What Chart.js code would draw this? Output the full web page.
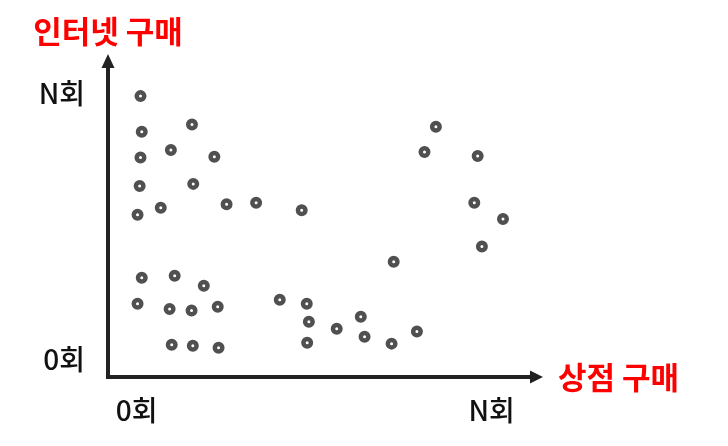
<!DOCTYPE html>
<html lang="ko">
<head>
<meta charset="utf-8">
<script src="https://cdn.jsdelivr.net/npm/chart.js@4/dist/chart.umd.min.js"></script>
<style>
    html, body { margin: 0; padding: 0; background: #fff; }
    #wrap { width: 728px; height: 446px; position: relative; }
</style>
</head>
<body>
<div id="wrap"><canvas id="buyChart"></canvas></div>
<script>
// store purchases (x) vs internet purchases (y), 0 = none, 10 = axis end
const storeBuys = [
    0.77, 0.80, 0.77, 0.75, 0.70, 1.99, 1.49, 2.52, 2.02, 1.25, 2.81, 3.51, 4.59,
    0.80, 1.58, 2.27, 0.70, 1.46, 1.98, 2.60, 1.51, 2.01, 2.62,
    4.07, 4.71, 4.76, 4.72, 5.42, 5.99, 6.08, 6.72, 7.32, 6.77,
    7.77, 7.50, 8.76, 8.68, 9.36, 8.86
];
const internetBuys = [
    9.09, 7.94, 7.10, 6.18, 5.25, 8.17, 7.35, 7.13, 6.25, 5.48, 5.59, 5.64, 5.40,
    3.21, 3.28, 2.95, 2.37, 2.20, 2.15, 2.27, 1.04, 1.01, 0.95,
    2.50, 2.37, 1.79, 1.11, 1.56, 1.95, 1.30, 1.08, 1.47, 3.73,
    8.10, 7.28, 7.15, 5.64, 5.11, 4.22
];

const xTickValues = [0.68, 9.09];
const xTickLabels = ['0회', 'N회'];
const yTickValues = [0.57, 9.17];
const yTickLabels = ['0회', 'N회'];
const xTitle = '상점 구매';
const yTitle = '인터넷 구매';

const FONT = '"Noto Sans CJK KR", "Noto Sans", sans-serif';

// axes with arrow heads, tick words and red axis titles
const axesPlugin = {
    id: 'arrowAxes',
    afterDatasetsDraw(chart) {
        const ctx = chart.ctx;
        const xs = chart.scales.x;
        const ys = chart.scales.y;
        const ox = xs.getPixelForValue(0);
        const oy = ys.getPixelForValue(0);
        const xEnd = xs.getPixelForValue(xs.max);
        const yEnd = ys.getPixelForValue(ys.max);

        ctx.save();
        ctx.strokeStyle = '#222';
        ctx.fillStyle = '#222';
        ctx.lineWidth = 4;
        ctx.lineCap = 'butt';
        ctx.beginPath();
        ctx.moveTo(ox, oy + 2);
        ctx.lineTo(ox, yEnd);
        ctx.moveTo(ox - 2, oy);
        ctx.lineTo(xEnd, oy);
        ctx.stroke();

        // arrow heads
        ctx.beginPath();
        ctx.moveTo(ox, yEnd - 14);
        ctx.lineTo(ox - 6.5, yEnd);
        ctx.lineTo(ox + 6.5, yEnd);
        ctx.closePath();
        ctx.fill();
        ctx.beginPath();
        ctx.moveTo(xEnd + 13, oy);
        ctx.lineTo(xEnd, oy - 6.5);
        ctx.lineTo(xEnd, oy + 6.5);
        ctx.closePath();
        ctx.fill();

        // tick words
        ctx.fillStyle = '#111';
        ctx.font = '500 28px ' + FONT;
        ctx.textBaseline = 'middle';
        ctx.textAlign = 'right';
        yTickValues.forEach((v, i) => {
            ctx.fillText(yTickLabels[i], 85, ys.getPixelForValue(v));
        });
        ctx.textAlign = 'center';
        xTickValues.forEach((v, i) => {
            ctx.fillText(xTickLabels[i], xs.getPixelForValue(v), oy + 33);
        });

        // titles
        ctx.fillStyle = '#ff0000';
        ctx.font = 'bold 31px ' + FONT;
        ctx.textAlign = 'center';
        ctx.fillText(yTitle, ox, 31);
        ctx.textAlign = 'left';
        ctx.fillText(xTitle, xEnd + 28, oy);
        ctx.restore();
    }
};

const ctx = document.getElementById('buyChart').getContext('2d');
new Chart(ctx, {
    type: 'scatter',
    data: {
        datasets: [{
            data: storeBuys.map((x, i) => ({ x: x, y: internetBuys[i] })),
            pointRadius: 3.75,
            pointHoverRadius: 3.75,
            borderWidth: 4.5,
            borderColor: '#505050',
            backgroundColor: '#fff',
            clip: false
        }]
    },
    options: {
        responsive: true,
        maintainAspectRatio: false,
        animation: false,
        layout: {
            padding: { left: 108, right: 198, top: 68, bottom: 69 }
        },
        scales: {
            x: { type: 'linear', min: 0, max: 10, display: false },
            y: { type: 'linear', min: 0, max: 10, display: false }
        },
        plugins: {
            legend: { display: false },
            tooltip: { enabled: false }
        }
    },
    plugins: [axesPlugin]
});
</script>
</body>
</html>
